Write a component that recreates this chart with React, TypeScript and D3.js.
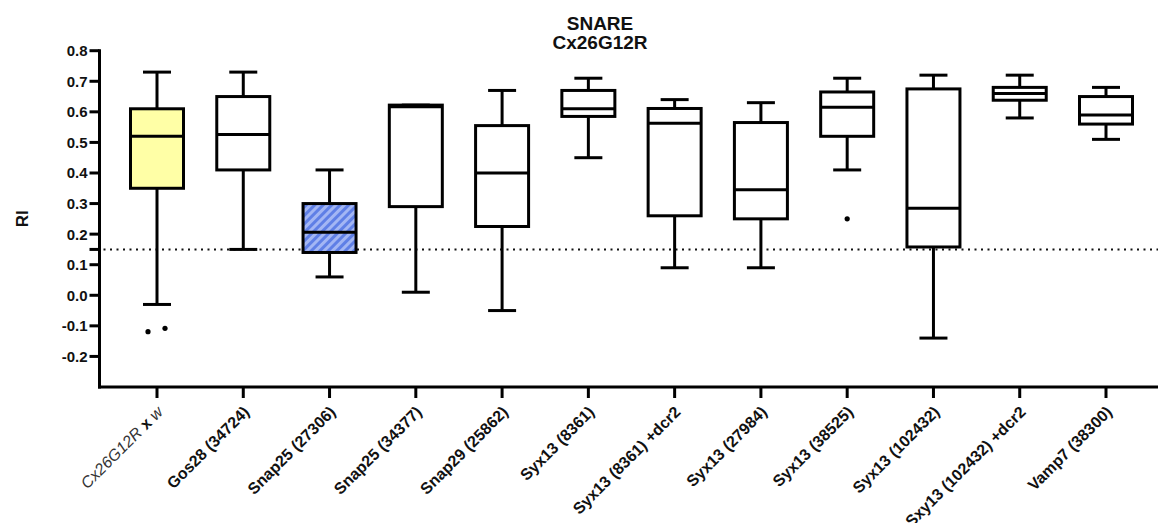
import React from "react";
import * as d3 from "d3";

// Genotypes along the x axis
const categories = [
  "Cx26G12R x w",
  "Gos28 (34724)",
  "Snap25 (27306)",
  "Snap25 (34377)",
  "Snap29 (25862)",
  "Syx13 (8361)",
  "Syx13 (8361) +dcr2",
  "Syx13 (27984)",
  "Syx13 (38525)",
  "Syx13 (102432)",
  "Sxy13 (102432) +dcr2",
  "Vamp7 (38300)",
];

// Box-plot summaries (RI) per genotype
const whiskerLow = [-0.03, 0.15, 0.06, 0.01, -0.05, 0.45, 0.09, 0.09, 0.41, -0.14, 0.58, 0.51];
const q1 = [0.35, 0.41, 0.14, 0.29, 0.225, 0.585, 0.26, 0.25, 0.52, 0.158, 0.638, 0.56];
const median = [0.52, 0.526, 0.206, 0.617, 0.40, 0.61, 0.563, 0.345, 0.615, 0.285, 0.66, 0.59];
const q3 = [0.61, 0.65, 0.30, 0.622, 0.555, 0.67, 0.611, 0.565, 0.665, 0.675, 0.68, 0.65];
const whiskerHigh = [0.73, 0.73, 0.41, 0.622, 0.67, 0.71, 0.64, 0.63, 0.71, 0.72, 0.72, 0.68];

// Outlying points: category index, horizontal jitter, value
const outlierCat = [0, 0, 8];
const outlierJitter = [-9, 8, 0];
const outlierVal = [-0.119, -0.108, 0.25];

// Threshold line
const thresholdValue = 0.15;

// Y axis ticks
const yTickValues = [-0.2, -0.1, 0.0, 0.1, 0.2, 0.3, 0.4, 0.5, 0.6, 0.7, 0.8];
const yTickLabels = ["-0.2", "-0.1", "0.0", "0.1", "0.2", "0.3", "0.4", "0.5", "0.6", "0.7", "0.8"];

const W = 1158;
const H = 523;
const FONT = "'Liberation Sans', Arial, Helvetica, sans-serif";

export default function App() {
  const axisX = 99.5;
  const axisY = 387;
  const y = d3.scaleLinear().domain([-0.3, 0.8]).range([axisY, 50.7]);
  const x = d3.scalePoint<string>().domain(categories).range([157, 1106]);

  const boxW = 53;
  const capW = 28;
  const sw = 3;

  const fillFor = (i: number) => (i === 0 ? "#ffffa6" : i === 2 ? "url(#hatch)" : "#ffffff");

  return (
    <svg
      width={W}
      height={H}
      style={{ position: "absolute", left: 0, top: 0, background: "#fff", fontFamily: FONT }}
    >
      <defs>
        <pattern id="hatch" patternUnits="userSpaceOnUse" width={6} height={6} patternTransform="rotate(45)">
          <rect x={0} y={0} width={6} height={6} fill="#a3b6f4" />
          <rect x={0} y={0} width={3} height={6} fill="#5f7fe6" />
        </pattern>
      </defs>

      {/* Title */}
      <text x={600} y={29.5} textAnchor="middle" fontSize={19} fontWeight="bold" fill="#111">
        SNARE
      </text>
      <text x={600} y={48.5} textAnchor="middle" fontSize={19} fontWeight="bold" fill="#111">
        Cx26G12R
      </text>

      {/* Y axis label */}
      <text
        transform={`translate(28,${(axisY + 50.7) / 2}) rotate(-90)`}
        textAnchor="middle"
        fontSize={17}
        fontWeight="bold"
        fill="#111"
      >
        RI
      </text>

      {/* Threshold dotted line */}
      <line
        x1={axisX + 4}
        x2={W}
        y1={y(thresholdValue)}
        y2={y(thresholdValue)}
        stroke="#111"
        strokeWidth={2}
        strokeDasharray="2 4.5"
      />

      {/* Boxes */}
      {categories.map((c, i) => {
        const cx = x(c)!;
        return (
          <g key={c}>
            <line x1={cx} x2={cx} y1={y(q3[i])} y2={y(whiskerHigh[i])} stroke="#000" strokeWidth={sw} />
            <line x1={cx} x2={cx} y1={y(q1[i])} y2={y(whiskerLow[i])} stroke="#000" strokeWidth={sw} />
            <line x1={cx - capW / 2} x2={cx + capW / 2} y1={y(whiskerHigh[i])} y2={y(whiskerHigh[i])} stroke="#000" strokeWidth={sw} />
            <line x1={cx - capW / 2} x2={cx + capW / 2} y1={y(whiskerLow[i])} y2={y(whiskerLow[i])} stroke="#000" strokeWidth={sw} />
            <rect
              x={cx - boxW / 2}
              y={y(q3[i])}
              width={boxW}
              height={y(q1[i]) - y(q3[i])}
              fill={fillFor(i)}
              stroke="#000"
              strokeWidth={sw}
            />
            <line x1={cx - boxW / 2} x2={cx + boxW / 2} y1={y(median[i])} y2={y(median[i])} stroke="#000" strokeWidth={sw} />
          </g>
        );
      })}

      {/* Outliers */}
      {outlierVal.map((v, k) => (
        <circle key={k} cx={x(categories[outlierCat[k]])! + outlierJitter[k]} cy={y(v)} r={2.6} fill="#000" />
      ))}

      {/* Y axis */}
      <line x1={axisX} x2={axisX} y1={y(0.8) - 1.5} y2={axisY + 1.5} stroke="#000" strokeWidth={3} />
      {yTickValues.map((v, k) => (
        <g key={v}>
          <line x1={axisX - 10} x2={axisX} y1={y(v)} y2={y(v)} stroke="#000" strokeWidth={3} />
          <text x={axisX - 12} y={y(v)} dy="0.36em" textAnchor="end" fontSize={15} fontWeight="bold" fill="#111">
            {yTickLabels[k]}
          </text>
        </g>
      ))}
      <line x1={axisX - 10} x2={axisX} y1={y(thresholdValue)} y2={y(thresholdValue)} stroke="#000" strokeWidth={3} />

      {/* X axis */}
      <line x1={axisX - 1.5} x2={W} y1={axisY} y2={axisY} stroke="#000" strokeWidth={3} />
      {categories.map((c, i) => {
        const cx = x(c)!;
        return (
          <g key={c}>
            <line x1={cx} x2={cx} y1={axisY} y2={axisY + 11} stroke="#000" strokeWidth={3} />
            <text
              transform={`translate(${cx + 7},${axisY + 26}) rotate(-45)`}
              textAnchor="end"
              fontSize={16}
              fontWeight="bold"
              fill="#111"
            >
              {i === 0 ? (
                <>
                  <tspan fontStyle="italic" fontWeight="normal" fill="#333">Cx26G12R</tspan>
                  <tspan> x </tspan>
                  <tspan fontStyle="italic" fontWeight="normal" fill="#333">w</tspan>
                </>
              ) : (
                c
              )}
            </text>
          </g>
        );
      })}
    </svg>
  );
}
